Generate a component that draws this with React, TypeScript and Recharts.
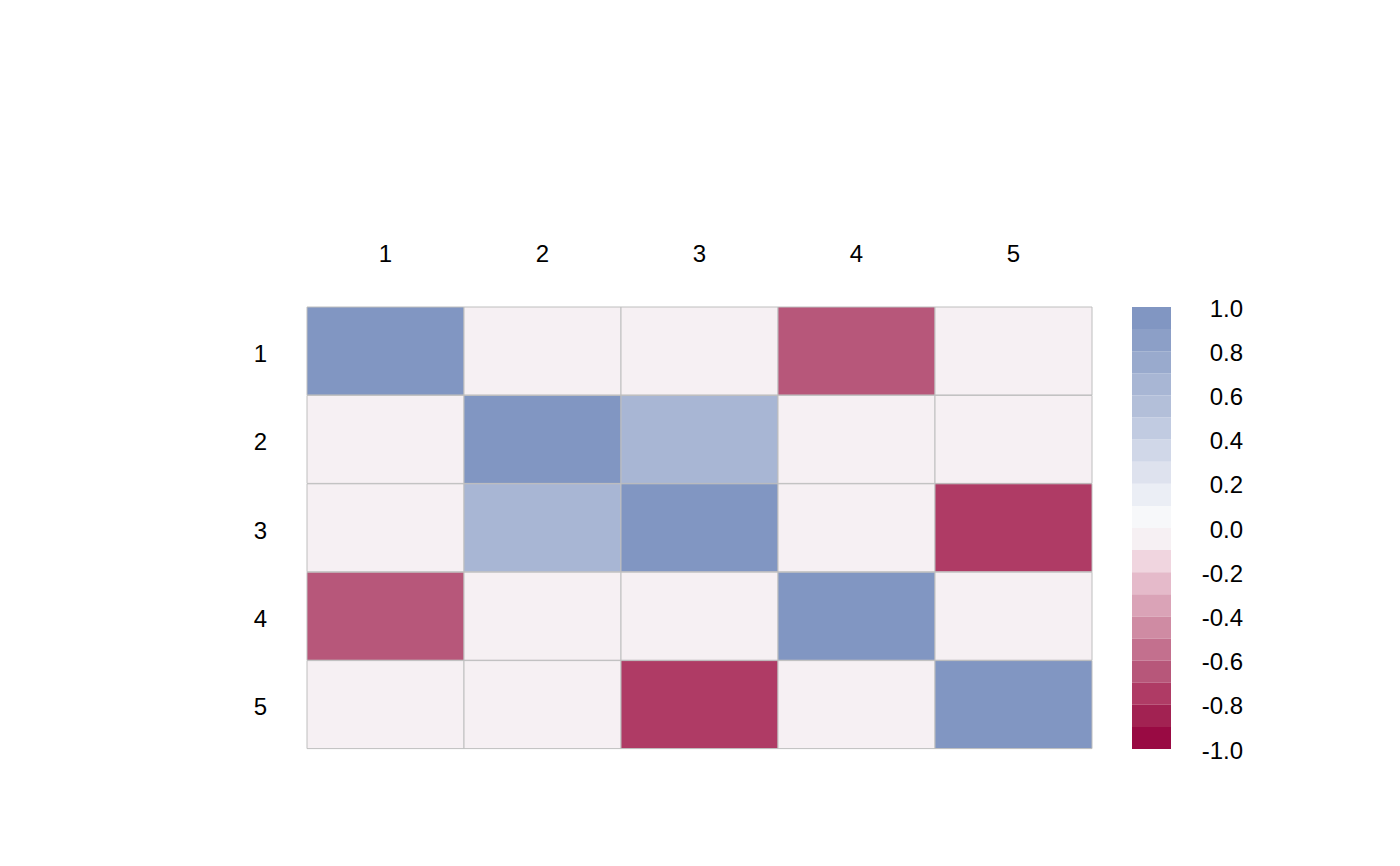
import React from 'react';
import { BarChart, Bar, Cell, XAxis, YAxis } from 'recharts';

// correlation matrix, rows top to bottom
const rowLabels = ['1', '2', '3', '4', '5'];
const colLabels = ['1', '2', '3', '4', '5'];
const row1 = [1, 0, 0, -0.65, 0];
const row2 = [0, 1, 0.65, 0, 0];
const row3 = [0, 0.65, 1, 0, -0.75];
const row4 = [-0.65, 0, 0, 1, 0];
const row5 = [0, 0, -0.75, 0, 1];
const matrix = [row1, row2, row3, row4, row5];

// 20 colour bands from -1 (index 0) up to +1 (index 19)
const bandColors = [
  '#990A43', '#A22252', '#AF3B65', '#B7577A', '#C3708E',
  '#CF8BA3', '#DAA3B7', '#E5BACA', '#F0D5DF', '#F6F0F3',
  '#F7F8FA', '#EBEEF5', '#DEE2EE', '#D0D7E8', '#C1CBE1',
  '#B3BFD9', '#A8B6D4', '#99AACD', '#8C9FC7', '#8196C2',
];
const legendTicks = [-1, -0.8, -0.6, -0.4, -0.2, 0, 0.2, 0.4, 0.6, 0.8, 1];

const FONT = '"Liberation Sans", Arial, sans-serif';
const FS = 24;
const GRID = '#BEBEBE';

const colorFor = (v: number) => {
  const i = Math.ceil((v + 1) * 10 - 1e-9) - 1;
  return bandColors[Math.max(0, Math.min(19, i))];
};

// each cell is a unit-wide stacked segment
const heatData = rowLabels.map((r) => {
  const row: any = { row: r };
  colLabels.forEach((_, j) => { row[`c${j}`] = 1; });
  return row;
});

// one stacked column, positive bands up from 0, negative bands down
const legendRow: any = { k: 'scale' };
bandColors.forEach((_, i) => { legendRow[`b${i}`] = i >= 10 ? 0.1 : -0.1; });
const legendData = [legendRow];
const posBands = [10, 11, 12, 13, 14, 15, 16, 17, 18, 19];
const negBands = [9, 8, 7, 6, 5, 4, 3, 2, 1, 0];

const RowTick = (props: any) => {
  const { x, y, payload } = props;
  return (
    <text x={x} y={y + 2} textAnchor="end" dominantBaseline="central"
      fill="#000" fontSize={FS} fontFamily={FONT}>
      {payload.value}
    </text>
  );
};

const LegendTick = (props: any) => {
  const { x, y, payload } = props;
  return (
    <text x={x + 72} y={y + 1} textAnchor="end" dominantBaseline="central"
      fill="#000" fontSize={FS} fontFamily={FONT}>
      {Number(payload.value).toFixed(1)}
    </text>
  );
};

export default function App() {
  return (
    <div style={{ position: 'absolute', left: 0, top: 0, width: 1400, height: 866, background: '#fff' }}>
      <div style={{ position: 'absolute', left: 0, top: 0 }}>
        <BarChart
          width={1400}
          height={866}
          data={heatData}
          layout="vertical"
          barCategoryGap={0}
          margin={{ top: 247, right: 308, bottom: 117, left: 247 }}
        >
          <XAxis
            type="number"
            orientation="top"
            domain={[0, 5]}
            ticks={colLabels.map((_, j) => j + 0.5)}
            tickFormatter={(v: number) => colLabels[Math.floor(v)]}
            height={60}
            axisLine={false}
            tickLine={false}
            tickSize={0}
            tickMargin={45}
            tick={{ fill: '#000', fontSize: FS, fontFamily: FONT }}
          />
          <YAxis
            type="category"
            dataKey="row"
            width={60}
            axisLine={false}
            tickLine={false}
            tickSize={0}
            tickMargin={40}
            tick={<RowTick />}
          />
          {colLabels.map((_, j) => (
            <Bar key={j} dataKey={`c${j}`} stackId="h" isAnimationActive={false}>
              {matrix.map((row, i) => (
                <Cell key={i} fill={colorFor(row[j])} stroke={GRID} strokeWidth={1} />
              ))}
            </Bar>
          ))}
        </BarChart>
      </div>
      <div style={{ position: 'absolute', left: 0, top: 0 }}>
        <BarChart
          width={1400}
          height={866}
          data={legendData}
          stackOffset="sign"
          barCategoryGap={0}
          margin={{ top: 307, right: 149, bottom: 117, left: 1132 }}
        >
          <XAxis dataKey="k" hide />
          <YAxis
            type="number"
            orientation="right"
            domain={[-1, 1]}
            ticks={legendTicks}
            width={80}
            axisLine={false}
            tickLine={false}
            tickSize={0}
            tickMargin={0}
            tick={<LegendTick />}
          />
          {posBands.concat(negBands).map((b) => (
            <Bar key={b} dataKey={`b${b}`} stackId="s" fill={bandColors[b]} isAnimationActive={false} />
          ))}
        </BarChart>
      </div>
    </div>
  );
}
